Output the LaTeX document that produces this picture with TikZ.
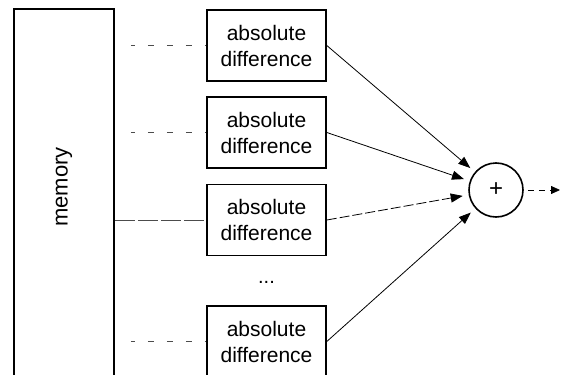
\documentclass[tikz,border=0pt]{standalone}
\usepackage{fontspec}
\setmainfont{Liberation Sans}
\usetikzlibrary{arrows.meta,positioning,calc}

\begin{document}
\begin{tikzpicture}[x=0.5pt,y=-0.5pt,
    absbox/.style={draw, line width=0.8pt, minimum width=59.5pt, minimum height=35.5pt, align=center, font=\fontsize{10.5}{13}\selectfont},
    membox/.style={draw, line width=0.8pt, minimum width=50pt, minimum height=188pt},
    sumnode/.style={draw, circle, line width=0.8pt, minimum size=27pt, inner sep=0pt, font=\large},
    feed/.style={gray!60!black, line width=0.4pt, dash pattern=on 3pt off 6.5pt, dash phase=1pt, shorten <=8pt},
    tosum/.style={line width=0.4pt, -{Triangle[length=6pt,width=4.5pt]}, shorten >=3pt}]
    \useasboundingbox (0,0) rectangle (561,374);
    \clip (0,0) rectangle (561,374);

    % Memory block (runs past the lower edge)
    \node[membox] (mem) at (64,197) {};
    \node[rotate=90, font=\fontsize{11}{13}\selectfont] (memlabel) at (64,187) {memory};

    % Absolute difference units
    \node[absbox] (ad1) at (266.5,45.5) {absolute\\difference};
    \node[absbox] (ad2) at (266.5,132.5) {absolute\\difference};
    \node[absbox] (ad3) at (266.5,220) {absolute\\difference};
    \node[font=\normalsize] (dots) at (266.5,282) {...};
    \node[absbox] (ad4) at (266.5,341.5) {absolute\\difference};

    % Adder
    \node[sumnode] (sum) at (496,190) {+};
    \coordinate (out) at (560,190);

    % Memory to units
    \draw[feed] (mem.east |- ad1) -- (ad1.west);
    \draw[feed] (mem.east |- ad2) -- (ad2.west);
    \draw[gray!60!black, line width=0.4pt, dash pattern=on 10pt off 1.5pt] (mem.east |- ad3) -- (ad3.west);
    \draw[feed] (mem.east |- ad4) -- (ad4.west);

    % Units to adder
    \draw[tosum] (ad1.east) -- (sum);
    \draw[tosum] (ad2.east) -- (sum);
    \draw[tosum, dash pattern=on 5pt off 1.5pt] (ad3.east) -- (sum);
    \draw[tosum] (ad4.east) -- (sum);

    % Output
    \draw[line width=0.4pt, dash pattern=on 3pt off 2.5pt, -{Triangle[length=4.5pt,width=4pt]}] (sum.east) ++(4,0) -- (out);
\end{tikzpicture}
\end{document}
